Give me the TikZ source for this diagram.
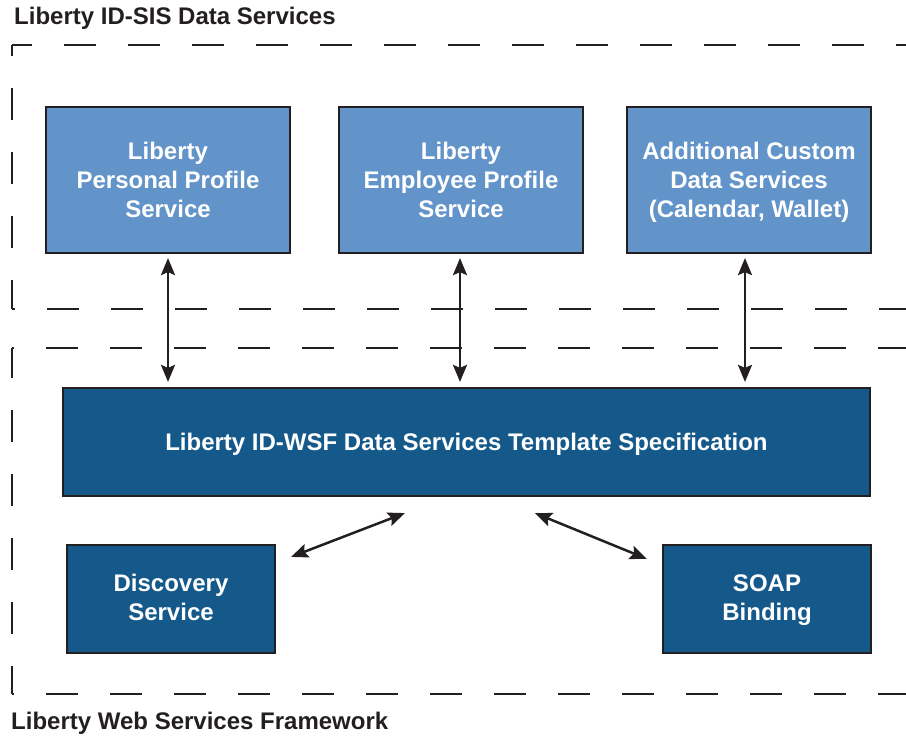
\documentclass[tikz,border=0pt]{standalone}
\usepackage{fontspec}
\setmainfont{Liberation Sans}
\usetikzlibrary{arrows.meta,calc}
\definecolor{lightblue}{RGB}{98,147,201}
\definecolor{darkblue}{RGB}{21,89,138}
\definecolor{ink}{RGB}{35,31,32}
\newcommand{\lstrut}{\rule[-5.9pt]{0pt}{29pt}}
\newcommand{\hstrut}{\rule[-7.4pt]{0pt}{29pt}}
\begin{document}
\begin{tikzpicture}[x=1pt,y=-1pt,
  boxbase/.style={draw=ink, line width=2.2pt, text=white, align=center, inner sep=0pt,
    font=\bfseries\fontsize{24}{29}\selectfont},
  lbox/.style={boxbase, fill=lightblue, minimum width=244pt, minimum height=146pt},
  dbox/.style={boxbase, fill=darkblue},
  dbl/.style={draw=ink, line width=2.5pt, {Stealth[length=17pt,width=14pt,inset=3pt]}-{Stealth[length=17pt,width=14pt,inset=3pt]}},
  dsh/.style={draw=ink, line width=2pt, dash pattern=on 32pt off 32pt},
  title/.style={text=ink, font=\bfseries\fontsize{24}{29}\selectfont, anchor=base west, inner sep=0pt}
]
\useasboundingbox (0,0) rectangle (906,738);

% frames
\draw[dsh, dash phase=12pt] (12,45) -- (906,45);
\draw[dsh, dash phase=21pt] (12,45) -- (12,309);
\draw[dsh, dash phase=29pt] (12,309) -- (906,309);
\draw[dsh, dash phase=30pt] (12,348) -- (906,348);
\draw[dsh, dash phase=2pt] (12,348) -- (12,694);
\draw[dsh, dash phase=30pt] (12,694) -- (906,694);

\node[title] (t1) at (14,25) {Liberty ID-SIS Data Services};
\node[title] (t2) at (11,729) {Liberty Web Services Framework};

% boxes
\node[lbox] (p1) at (168,180) {\lstrut Liberty\\\lstrut Personal Profile\\\lstrut Service};
\node[lbox] (p2) at (461,180) {\lstrut Liberty\\\lstrut Employee Profile\\\lstrut Service};
\node[lbox] (p3) at (749,180) {\lstrut Additional Custom\\\lstrut Data Services\\\lstrut (Calendar, Wallet)};
\node[dbox, minimum width=807pt, minimum height=108pt] (big) at (466.5,442) {\lstrut Liberty ID-WSF Data Services Template Specification};
\node[dbox, minimum width=208pt, minimum height=108pt] (disc) at (171,599) {\hstrut Discovery\\\hstrut Service};
\node[dbox, minimum width=208pt, minimum height=108pt] (soap) at (767,599) {\hstrut SOAP\\\hstrut Binding};

% arrows
\draw[dbl, shorten <=4pt, shorten >=5pt] (p1.south) -- (p1.south |- big.north);
\draw[dbl, shorten <=4pt, shorten >=5pt] ([xshift=-1pt]p2.south) -- ([xshift=-1pt]p2.south |- big.north);
\draw[dbl, shorten <=4pt, shorten >=5pt] ([xshift=-4pt]p3.south) -- ([xshift=-4pt]p3.south |- big.north);

\coordinate (d1) at ($(disc.north east)+(15,13)$);
\coordinate (d2) at ($(big.south west)+(343,16)$);
\coordinate (s1) at ($(big.south west)+(473,16)$);
\coordinate (s2) at ($(soap.north west)+(-15,15)$);
\draw[dbl] (d1) -- (d2);
\draw[dbl] (s1) -- (s2);
\end{tikzpicture}
\end{document}
